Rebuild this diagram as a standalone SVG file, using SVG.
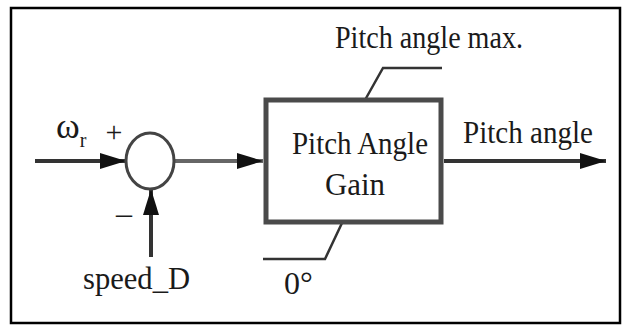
<svg xmlns="http://www.w3.org/2000/svg" width="624" height="326" viewBox="0 0 624 326">
<style>
text{font-family:"Liberation Serif","Times New Roman",serif;fill:#1a1a1a}
.lbl{font-size:32px}
.wire{stroke:#333;stroke-width:4;fill:none}
.lead{stroke:#333;stroke-width:2.5;fill:none}
</style>
<defs>
<marker id="ah" markerWidth="26" markerHeight="16" refX="26" refY="8" orient="auto" markerUnits="userSpaceOnUse">
<path d="M0,0 L26,8 L0,16 Z" fill="#111"/>
</marker>
</defs>
<rect x="0" y="0" width="624" height="326" fill="#fff"/>
<rect x="11" y="8" width="609" height="315" fill="none" stroke="#000" stroke-width="2.5"/>
<g id="connectors">
<line class="wire" x1="35" y1="161" x2="126" y2="161" marker-end="url(#ah)"/>
<line x1="174" y1="161" x2="263" y2="161" stroke="#666" stroke-width="4" marker-end="url(#ah)"/>
<line class="wire" x1="444" y1="161" x2="606" y2="161" marker-end="url(#ah)"/>
<line class="wire" x1="151" y1="257" x2="151" y2="189" marker-end="url(#ah)"/>
<path class="lead" d="M442,68 L383,68 L365,100"/>
<path class="lead" d="M263,259 L325,259 L342,223"/>
</g>
<g id="sum">
<ellipse cx="150" cy="161" rx="24" ry="28" fill="#fff" stroke="#444" stroke-width="3"/>
</g>
<g id="gain">
<rect x="266" y="100" width="175" height="122" fill="#fff" stroke="#4a4a4a" stroke-width="5"/>
<text class="lbl" x="360" y="154" text-anchor="middle" textLength="136" lengthAdjust="spacingAndGlyphs">Pitch Angle</text>
<text class="lbl" x="355" y="195" text-anchor="middle" textLength="60" lengthAdjust="spacingAndGlyphs">Gain</text>
</g>
<g id="labels">
<text x="56" y="138" font-size="36">ω<tspan font-size="20" dy="9">r</tspan></text>
<text x="114" y="142" font-size="30" text-anchor="middle">+</text>
<text x="124" y="224" font-size="32" text-anchor="middle">–</text>
<text class="lbl" x="83" y="289" textLength="107" lengthAdjust="spacingAndGlyphs">speed_D</text>
<text class="lbl" x="335" y="48" textLength="188" lengthAdjust="spacingAndGlyphs">Pitch angle max.</text>
<text class="lbl" x="463" y="143" textLength="130" lengthAdjust="spacingAndGlyphs">Pitch angle</text>
<text x="284" y="294" font-size="32">0°</text>
</g>
</svg>
